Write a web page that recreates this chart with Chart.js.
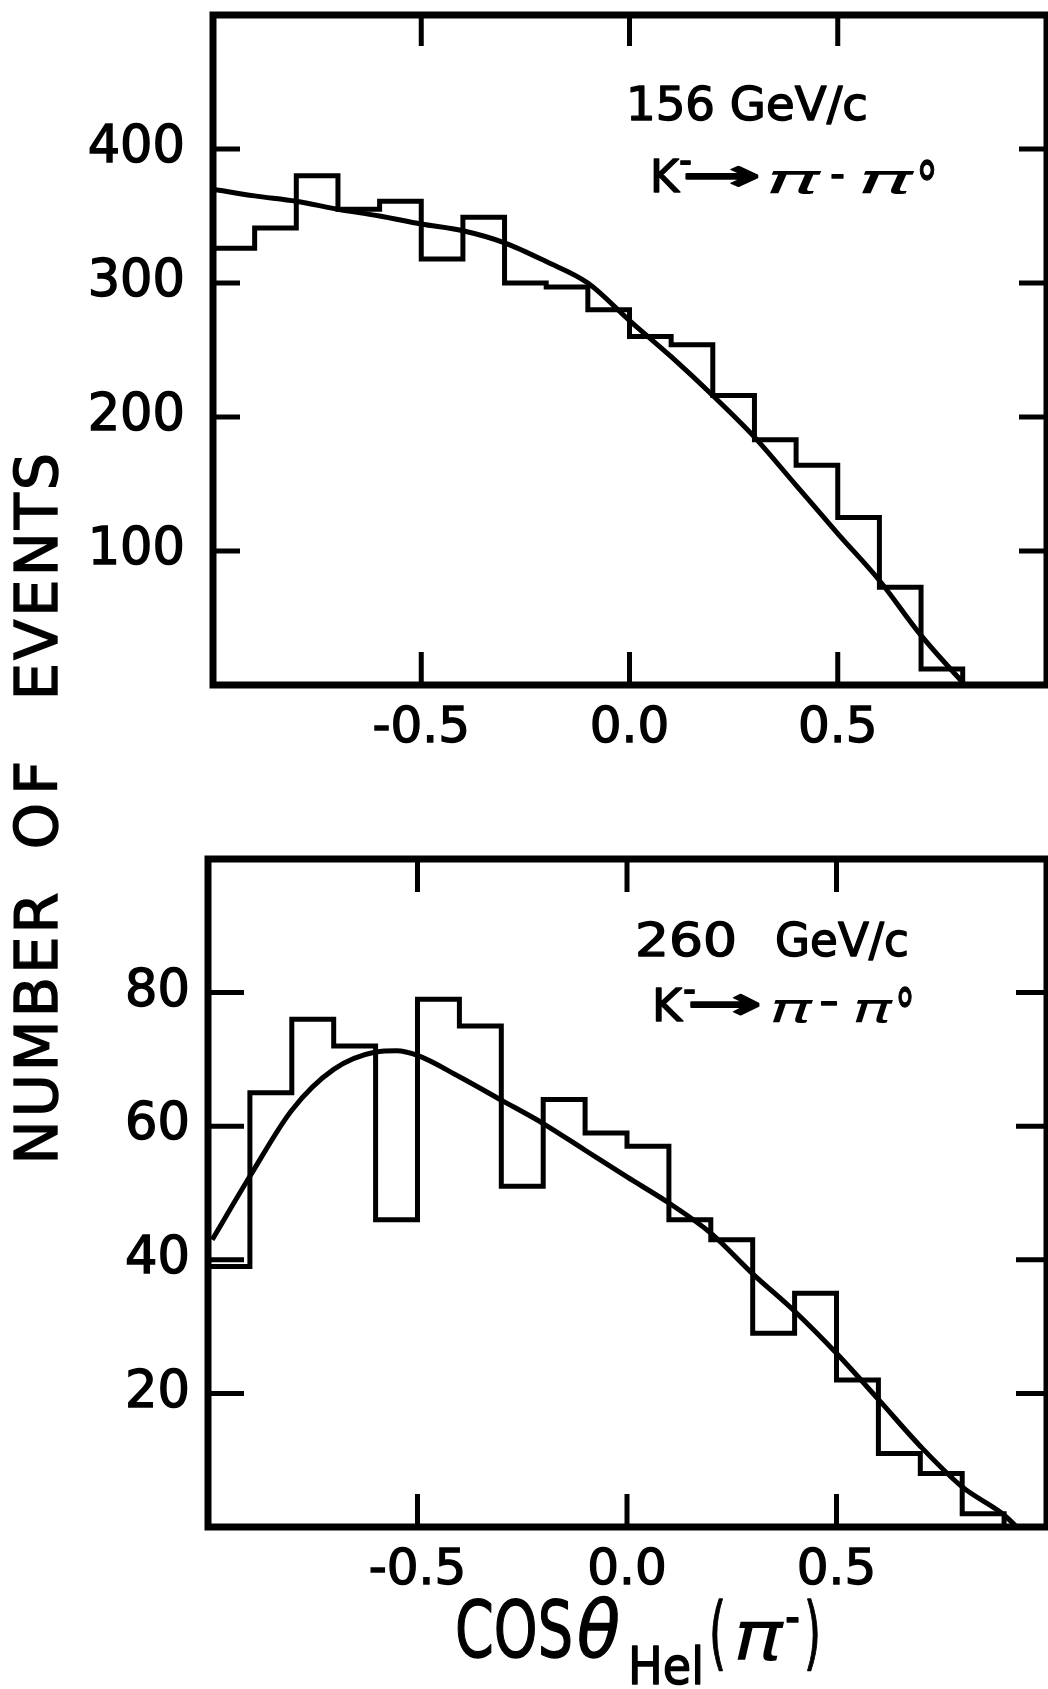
<!DOCTYPE html>
<html lang="en">
<head>
<meta charset="utf-8">
<title>K⁻ → π⁻π° helicity-angle distributions</title>
<script src="https://cdn.jsdelivr.net/npm/chart.js@4.4.1/dist/chart.umd.min.js"></script>
<style>
  html, body { margin: 0; padding: 0; background: #fff; }
  body { position: relative; width: 1048px; height: 1689px; overflow: hidden;
         font-family: "DejaVu Sans", sans-serif; color: #000; }
  canvas { position: absolute; left: 0; }
  #cTop { top: 0; }
  #cBot { top: 780px; }
  .yword { position: absolute; width: 400px; height: 60px; line-height: 60px;
           text-align: center; font-size: 59px; letter-spacing: 3px;
           -webkit-text-stroke: 1.4px #000;
           transform: rotate(-90deg); white-space: nowrap; }
</style>
</head>
<body>
<canvas id="cTop" width="1048" height="780"></canvas>
<canvas id="cBot" width="1048" height="909"></canvas>
<div class="yword" style="left:-163px; top:997px;">NUMBER</div>
<div class="yword" style="left:-163px; top:771px; letter-spacing:8px;">OF</div>
<div class="yword" style="left:-163px; top:545px;">EVENTS</div>

<script>
// ---- axis ticks ----
const X_TICKS = [-0.5, 0.0, 0.5];
const Y_TICKS_156 = [100, 200, 300, 400];
const Y_TICKS_260 = [20, 40, 60, 80];

// ---- 156 GeV/c sample: bin edges, counts per bin, fitted curve ----
const edges156 = [-1.0, -0.9, -0.8, -0.7, -0.6, -0.5, -0.4, -0.3, -0.2, -0.1,
                  0.0, 0.1, 0.2, 0.3, 0.4, 0.5, 0.6, 0.7, 0.8];
const counts156 = [326, 341, 380, 355, 361, 318, 349, 300, 297, 280,
                   260, 254, 216, 183, 164, 125, 73, 12];
const fitX156 = [-1.0, -0.9, -0.8, -0.7, -0.6, -0.5, -0.4, -0.3, -0.2, -0.1,
                 0.0, 0.1, 0.2, 0.3, 0.4, 0.5, 0.6, 0.7, 0.8, 0.806];
const fitY156 = [370, 365, 361, 355, 350, 344, 339, 330, 316, 300,
                 272, 245, 216, 185, 149, 113, 78, 37, 2, 0];

// ---- 260 GeV/c sample ----
const edges260 = [-1.0, -0.9, -0.8, -0.7, -0.6, -0.5, -0.4, -0.3, -0.2, -0.1,
                  0.0, 0.1, 0.2, 0.3, 0.4, 0.5, 0.6, 0.7, 0.8, 0.9];
const counts260 = [39, 65, 76, 72, 46, 79, 75, 51, 64, 59,
                   57, 46, 43, 29, 35, 22, 11, 8, 2];
const fitX260 = [-0.99, -0.9, -0.8, -0.7, -0.6, -0.55, -0.5, -0.4, -0.3, -0.2, -0.1,
                 0.0, 0.1, 0.2, 0.3, 0.4, 0.5, 0.6, 0.7, 0.8, 0.9, 0.93];
const fitY260 = [43, 52.5, 62.4, 68.5, 71.1, 71.3, 70.6, 67.4, 63.9, 60.4, 56.4,
                 52.4, 48.5, 44, 37.9, 32.3, 26, 19.1, 12.1, 6, 1.8, 0];

const FONT = 'DejaVu Sans';

// histogram outline: one point at each bin's lower edge, closed down to zero
function histPoints(edges, counts) {
  const pts = counts.map((c, i) => ({ x: edges[i], y: c }));
  pts.push({ x: edges[counts.length], y: 0 });
  return pts;
}
function curvePoints(xs, ys) {
  return xs.map((x, i) => ({ x: x, y: ys[i] }));
}

// lettering squeezed/stretched horizontally to a given width
function fitText(ctx, t) {
  ctx.save();
  ctx.font = t.font;
  ctx.textAlign = 'left';
  ctx.textBaseline = 'alphabetic';
  const w = ctx.measureText(t.s).width;
  const sx = t.w ? t.w / w : 1;
  ctx.translate(t.x, t.y);
  ctx.scale(sx, 1);
  ctx.fillText(t.s, 0, 0);
  if (t.heavy !== false) {
    ctx.lineWidth = 1.4;
    ctx.lineJoin = 'round';
    ctx.strokeText(t.s, 0, 0);
  }
  ctx.restore();
}

// frame, inward tick marks and in-panel lettering
function makeDecor(cfg) {
  return {
    id: 'panelDecor',
    afterDraw(chart) {
      const ctx = chart.ctx, a = chart.chartArea;
      const xs = chart.scales.x, ys = chart.scales.y;
      ctx.save();
      ctx.strokeStyle = '#000';
      ctx.fillStyle = '#000';
      ctx.lineCap = 'butt';
      ctx.lineWidth = 5;
      ctx.beginPath();
      cfg.yTicks.forEach(v => {
        const py = ys.getPixelForValue(v);
        ctx.moveTo(a.left, py); ctx.lineTo(a.left + cfg.tick.left, py);
        ctx.moveTo(a.right, py); ctx.lineTo(a.right - cfg.tick.right, py);
      });
      X_TICKS.forEach(v => {
        const px = xs.getPixelForValue(v);
        ctx.moveTo(px, a.bottom); ctx.lineTo(px, a.bottom - cfg.tick.bottom);
        ctx.moveTo(px, a.top); ctx.lineTo(px, a.top + cfg.tick.top);
      });
      ctx.stroke();

      ctx.lineCap = 'square';
      ctx.lineWidth = 7;
      ctx.beginPath();
      ctx.moveTo(a.right, a.top); ctx.lineTo(a.left, a.top);
      ctx.lineTo(a.left, a.bottom); ctx.lineTo(a.right, a.bottom);
      ctx.stroke();
      ctx.lineWidth = 5;
      ctx.beginPath();
      ctx.moveTo(a.right, a.top); ctx.lineTo(a.right, a.bottom);
      ctx.stroke();

      cfg.texts.forEach(t => fitText(ctx, Object.assign({}, t, { y: t.y - cfg.offsetY })));
      ctx.restore();
    }
  };
}

function xScale(height, pad) {
  return {
    type: 'linear', min: -1, max: 1, position: 'bottom',
    grid: { display: false }, border: { display: false },
    ticks: { color: '#000', font: { family: FONT, size: 50 }, padding: pad,
             textStrokeColor: '#000', textStrokeWidth: 1.4,
             maxRotation: 0, autoSkip: false,
             callback: v => Number(v).toFixed(1) },
    afterBuildTicks: s => { s.ticks = X_TICKS.map(v => ({ value: v })); },
    afterFit: s => { s.height = height; s.paddingLeft = 0; s.paddingRight = 0; }
  };
}
function yScale(max, tickVals, width, pad) {
  return {
    type: 'linear', min: 0, max: max, position: 'left',
    grid: { display: false }, border: { display: false },
    ticks: { color: '#000', font: { family: FONT, size: 51 }, padding: pad,
             textStrokeColor: '#000', textStrokeWidth: 1.4,
             autoSkip: false, callback: v => String(v) },
    afterBuildTicks: s => { s.ticks = tickVals.map(v => ({ value: v })); },
    afterFit: s => { s.width = width; s.paddingTop = 0; s.paddingBottom = 0; }
  };
}

function histDataset(pts) {
  return { data: pts, stepped: true, borderColor: '#000', borderWidth: 5,
           borderJoinStyle: 'miter', pointRadius: 0, fill: false };
}
function curveDataset(pts) {
  return { data: pts, cubicInterpolationMode: 'monotone', borderColor: '#000',
           borderWidth: 5, pointRadius: 0, fill: false };
}

const baseOptions = {
  responsive: false, animation: false, devicePixelRatio: 1,
  plugins: { legend: { display: false }, tooltip: { enabled: false } }
};

// ---- upper panel: 156 GeV/c ----
new Chart(document.getElementById('cTop'), {
  type: 'line',
  data: { datasets: [
    histDataset(histPoints(edges156, counts156)),
    curveDataset(curvePoints(fitX156, fitY156))
  ] },
  options: Object.assign({}, baseOptions, {
    layout: { padding: { top: 15, right: 2, left: 0, bottom: 0 } },
    scales: { x: xScale(95, 6), y: yScale(500, Y_TICKS_156, 213, 20) }
  }),
  plugins: [makeDecor({
    yTicks: Y_TICKS_156, offsetY: 0,
    tick: { left: 27, right: 27, top: 31, bottom: 33 },
    texts: [
      { s: '156 GeV/c', x: 626, y: 120, font: `46px "${FONT}"`, w: 242 },
      { s: 'K', x: 650, y: 192, font: `44px "${FONT}"`, w: 29 },
      { s: '−', x: 679, y: 172, font: `bold 30px "${FONT}"`, w: 13 },
      { s: '→', x: 681, y: 190, font: `bold 44px "${FONT}"`, w: 80 },
      { s: 'π', x: 765, y: 193, font: `italic 40px "${FONT}"`, w: 55, heavy: false },
      { s: '−', x: 830, y: 185, font: `bold 28px "${FONT}"`, w: 15 },
      { s: 'π', x: 857, y: 193, font: `italic 40px "${FONT}"`, w: 56, heavy: false },
      { s: '°', x: 916, y: 208, font: `64px "${FONT}"`, w: 22 }
    ]
  })]
});

// ---- lower panel: 260 GeV/c ----
new Chart(document.getElementById('cBot'), {
  type: 'line',
  data: { datasets: [
    histDataset(histPoints(edges260, counts260)),
    curveDataset(curvePoints(fitX260, fitY260))
  ] },
  options: Object.assign({}, baseOptions, {
    layout: { padding: { top: 79, right: 2, left: 0, bottom: 0 } },
    scales: { x: xScale(162, 6), y: yScale(100, Y_TICKS_260, 208, 10) }
  }),
  plugins: [makeDecor({
    yTicks: Y_TICKS_260, offsetY: 780,
    tick: { left: 36, right: 30, top: 33, bottom: 33 },
    texts: [
      { s: '260', x: 635, y: 956, font: `46px "${FONT}"`, w: 102 },
      { s: 'GeV/c', x: 775, y: 956, font: `46px "${FONT}"`, w: 134 },
      { s: 'K', x: 652, y: 1021, font: `45px "${FONT}"`, w: 30 },
      { s: '−', x: 683, y: 1001, font: `bold 30px "${FONT}"`, w: 13 },
      { s: '→', x: 686, y: 1019, font: `bold 45px "${FONT}"`, w: 76 },
      { s: 'π', x: 769, y: 1022, font: `italic 40px "${FONT}"`, w: 43, heavy: false },
      { s: '−', x: 819, y: 1012, font: `bold 28px "${FONT}"`, w: 20 },
      { s: 'π', x: 852, y: 1022, font: `italic 40px "${FONT}"`, w: 40, heavy: false },
      { s: '°', x: 895, y: 1035, font: `64px "${FONT}"`, w: 20 },
      // horizontal axis title
      { s: 'COS', x: 455, y: 1657, font: `78px "${FONT}"`, w: 118 },
      { s: 'θ', x: 577, y: 1657, font: `italic 78px "${FONT}"`, w: 43 },
      { s: 'Hel', x: 628, y: 1684, font: `52px "${FONT}"`, w: 76 },
      { s: '(', x: 709, y: 1660, font: `80px "${FONT}"`, w: 17 },
      { s: 'π', x: 733, y: 1660, font: `italic 70px "${FONT}"`, w: 50, heavy: false },
      { s: '−', x: 785, y: 1631, font: `bold 36px "${FONT}"`, w: 15 },
      { s: ')', x: 804, y: 1660, font: `80px "${FONT}"`, w: 17 }
    ]
  })]
});
</script>
</body>
</html>
